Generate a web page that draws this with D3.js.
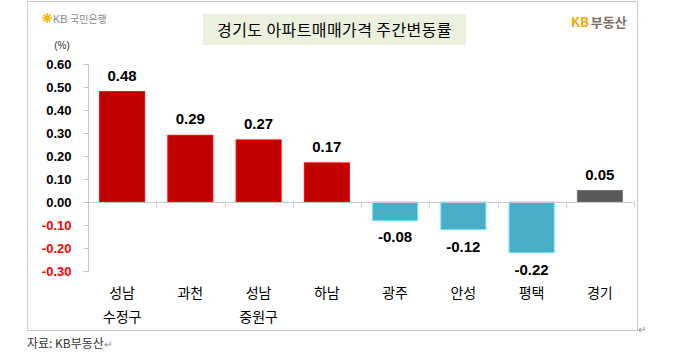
<!DOCTYPE html>
<html><head><meta charset="utf-8">
<script src="https://cdn.jsdelivr.net/npm/d3@7"></script>
<style>
body{margin:0;background:#fff;}
svg{display:block;}
</style></head>
<body>
<svg id="c" width="673" height="353"></svg>
<script>
const categories = [["성남","수정구"],["과천"],["성남","중원구"],["하남"],["광주"],["안성"],["평택"],["경기"]];
const values = [0.48, 0.29, 0.27, 0.17, -0.08, -0.12, -0.22, 0.05];
const barColors = ["#C00000","#C00000","#C00000","#C00000","#4BACC6","#4BACC6","#4BACC6","#595959"];
const yTicks = [0.60,0.50,0.40,0.30,0.20,0.10,0.00,-0.10,-0.20,-0.30];
const title = "경기도 아파트매매가격 주간변동률";
const unitLabel = "(%)";
const sourceText = "자료: KB부동산";

const svg = d3.select("#c");
const kr = "'Noto Sans CJK KR','Noto Sans',sans-serif";
const num = "'Liberation Sans',Arial,sans-serif";

// outer frame
svg.append("rect").attr("x",27.5).attr("y",1.5).attr("width",610).attr("height",329)
  .attr("fill","none").attr("stroke","#c8c8c8").attr("stroke-width",1);

const y = d3.scaleLinear().domain([-0.30,0.60]).range([271,64]);
const x = d3.scaleBand().domain(d3.range(categories.length)).range([88,634]).paddingInner(0.34).paddingOuter(0.17);

// y axis
const yAxis = d3.axisLeft(y).tickValues(yTicks).tickFormat(d3.format(".2f")).tickSize(5).tickPadding(12);
const gy = svg.append("g").attr("transform","translate(88.5,0)").call(yAxis);
gy.select(".domain").attr("stroke","#c8c8c8").attr("d","M-5,64.5H0V271.5H-5");
gy.selectAll(".tick line").attr("stroke","#c8c8c8");
gy.selectAll(".tick text").attr("font-family",num).attr("font-size",13).attr("font-weight","bold")
  .attr("fill",d=>d<0?"#FF0000":"#000")
  .text(d=>d3.format(".2f")(d).replace("−","-"));

// bars
svg.append("g").selectAll("rect").data(values).join("rect")
  .attr("x",(d,i)=>x(i)).attr("width",x.bandwidth())
  .attr("y",d=>y(Math.max(0,d))).attr("height",d=>Math.abs(y(d)-y(0)))
  .attr("fill",(d,i)=>barColors[i])
  .attr("stroke",(d,i)=>d3.color(barColors[i]).brighter(0.8)).attr("stroke-width",1);

// x axis at zero
const xAxisG = svg.append("g").attr("transform",`translate(0,${y(0)+0.5})`);
xAxisG.append("line").attr("x1",88).attr("x2",634).attr("stroke","#c8c8c8");
const xt = d3.range(categories.length+1).map(i=>88+i*(634-88)/categories.length);
xAxisG.selectAll("line.t").data(xt).join("line").attr("class","t")
  .attr("x1",d=>Math.round(d)+0.5).attr("x2",d=>Math.round(d)+0.5).attr("y1",0).attr("y2",5).attr("stroke","#c8c8c8");

// value labels
svg.append("g").selectAll("text").data(values).join("text")
  .attr("x",(d,i)=>x(i)+x.bandwidth()/2)
  .attr("y",d=>d>=0?y(d)-11:y(d)+22)
  .attr("text-anchor","middle").attr("font-family",num).attr("font-weight","bold").attr("font-size",15)
  .attr("fill","#000").text(d=>d3.format(".2f")(d).replace("−","-"));

// category labels
const cg = svg.append("g").selectAll("text").data(categories).join("text")
  .attr("x",(d,i)=>x(i)+x.bandwidth()/2).attr("y",298)
  .attr("text-anchor","middle").attr("font-family",kr).attr("font-size",14).attr("fill","#000");
cg.selectAll("tspan").data(d=>d).join("tspan")
  .attr("x",function(){return d3.select(this.parentNode).attr("x");})
  .attr("dy",(d,i)=>i?24:0).text(d=>d);

// unit
svg.append("text").attr("x",62).attr("y",49).attr("text-anchor","middle")
  .attr("font-family",num).attr("font-size",10).attr("fill","#333").text(unitLabel);

// title box
svg.append("rect").attr("x",203).attr("y",14).attr("width",263).attr("height",31).attr("fill","#EBF1DE");
svg.append("text").attr("x",334.5).attr("y",35.5).attr("text-anchor","middle")
  .attr("font-family",kr).attr("font-size",16).attr("letter-spacing",0.4).attr("fill","#000").text(title);

// KB국민은행 logo
const lg = svg.append("g").attr("transform","translate(43,18)");
[0,45,90,135].forEach(a=>{
  lg.append("line").attr("x1",-5).attr("x2",5).attr("y1",0).attr("y2",0)
    .attr("transform",`translate(4,0) rotate(${a})`).attr("stroke","#F5B300").attr("stroke-width",1.6);
});
svg.append("text").attr("x",53).attr("y",22.5).attr("font-family",num).attr("font-size",11).attr("fill","#8a8a8a").text("KB");
svg.append("text").attr("x",70).attr("y",22.5).attr("font-family",kr).attr("font-size",10).attr("fill","#8a8a8a").text("국민은행");

// KB부동산
const kb = svg.append("text").attr("x",571).attr("y",27).attr("font-family",kr).attr("font-weight","bold").attr("font-size",13);
kb.append("tspan").attr("fill","#F5A800").text("KB");
kb.append("tspan").attr("fill","#7a6f66").attr("dx",2).text("부동산");

// source
const src = svg.append("text").attr("x",27).attr("y",348).attr("font-family",kr).attr("font-size",12).attr("fill","#333");
src.append("tspan").text(sourceText);
src.append("tspan").attr("font-family",num).attr("font-size",10).attr("fill","#888").text("↵");
svg.append("text").attr("x",638).attr("y",333).attr("font-family",num).attr("font-size",10).attr("fill","#888").text("↵");
</script>
</body></html>
